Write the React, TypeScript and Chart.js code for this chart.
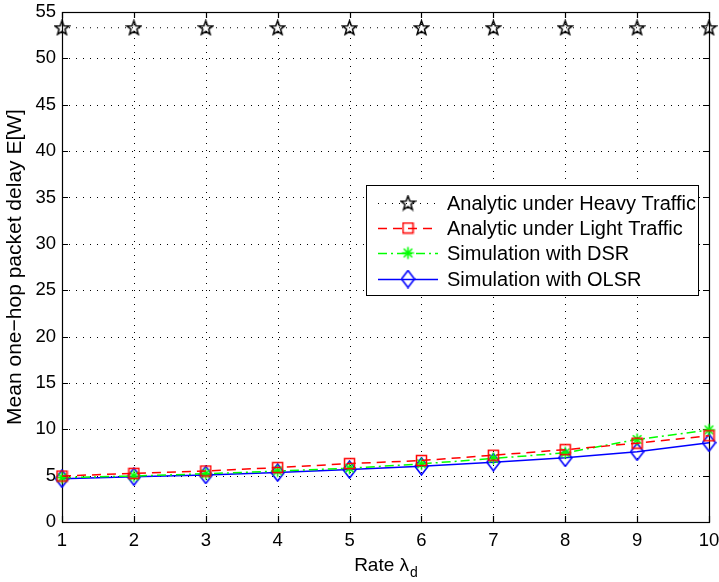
import React, { useEffect, useRef } from "react";
import { Chart, registerables } from "chart.js";

Chart.register(...registerables);

const rates = [1, 2, 3, 4, 5, 6, 7, 8, 9, 10];
const heavyValues = [53.3, 53.3, 53.3, 53.3, 53.3, 53.3, 53.3, 53.3, 53.3, 53.3];
const lightValues = [4.96, 5.25, 5.5, 5.87, 6.3, 6.63, 7.2, 7.8, 8.5, 9.3];
const dsrValues = [4.78, 4.96, 5.2, 5.5, 5.8, 6.27, 6.85, 7.46, 8.9, 9.93];
const olsrValues = [4.67, 4.89, 5.07, 5.33, 5.65, 6.0, 6.45, 6.92, 7.57, 8.55];
const seriesLabels = [
  "Analytic under Heavy Traffic",
  "Analytic under Light Traffic",
  "Simulation with DSR",
  "Simulation with OLSR",
];
const xTitle = "Rate λ";
const xTitleSub = "d";
const yTitle = "Mean one\u2212hop packet delay E[W]";

const FONT = "'Liberation Sans', Arial, Helvetica, sans-serif";

function makeMarker(w: number, h: number, draw: (c: CanvasRenderingContext2D) => void) {
  const cv = document.createElement("canvas");
  cv.width = w;
  cv.height = h;
  const c = cv.getContext("2d")!;
  draw(c);
  return cv;
}

export default function App() {
  const ref = useRef<HTMLCanvasElement>(null);
  useEffect(() => {
    document.body.style.margin = "0";
    const pent = makeMarker(17, 17, (c) => {
      c.strokeStyle = "#000";
      c.lineWidth = 1.5;
      c.beginPath();
      const cx = 8.5, cy = 9, R = 7.5, r = 3.1;
      for (let i = 0; i < 10; i++) {
        const a = -Math.PI / 2 + (i * Math.PI) / 5;
        const rr = i % 2 === 0 ? R : r;
        const px = cx + rr * Math.cos(a);
        const py = cy + rr * Math.sin(a);
        if (i === 0) c.moveTo(px, py);
        else c.lineTo(px, py);
      }
      c.closePath();
      c.stroke();
    });
    const square = makeMarker(13, 13, (c) => {
      c.strokeStyle = "#ff0000";
      c.lineWidth = 1.5;
      c.strokeRect(1.5, 1.5, 10, 10);
    });
    const diamond = makeMarker(15, 19, (c) => {
      c.strokeStyle = "#0000ff";
      c.lineWidth = 1.6;
      c.beginPath();
      c.moveTo(7.5, 1);
      c.lineTo(14, 9.5);
      c.lineTo(7.5, 18);
      c.lineTo(1, 9.5);
      c.closePath();
      c.stroke();
    });
    const asterisk = makeMarker(15, 15, (c) => {
      c.strokeStyle = "#00ff00";
      c.lineWidth = 1.6;
      const cx = 7.5, cy = 7.5, r = 6;
      c.beginPath();
      for (let i = 0; i < 4; i++) {
        const a = (i * Math.PI) / 4;
        c.moveTo(cx - r * Math.cos(a), cy - r * Math.sin(a));
        c.lineTo(cx + r * Math.cos(a), cy + r * Math.sin(a));
      }
      c.stroke();
    });

    const markers = [pent, square, asterisk, diamond];
    const colors = ["#000000", "#ff0000", "#00ff00", "#0000ff"];
    const dashes = [[1, 6], [9, 6], [9, 4, 2, 4], []];
    const widths = [1, 1.5, 1.5, 1.5];

    const plugin = {
      id: "matlabStyle",
      beforeDatasetsDraw(chart: any) {
        const { ctx, chartArea } = chart;
        const { left, right, top, bottom } = chartArea;
        const xs = chart.scales.x;
        const ys = chart.scales.y;
        ctx.save();
        ctx.strokeStyle = "#000";
        ctx.lineWidth = 1;
        ctx.setLineDash([1, 6]);
        xs.ticks.forEach((t: any) => {
          const px = Math.round(xs.getPixelForValue(t.value)) + 0.5;
          ctx.beginPath();
          ctx.moveTo(px, bottom);
          ctx.lineTo(px, top);
          ctx.stroke();
        });
        ys.ticks.forEach((t: any) => {
          const py = Math.round(ys.getPixelForValue(t.value)) + 0.5;
          ctx.beginPath();
          ctx.moveTo(left, py);
          ctx.lineTo(right, py);
          ctx.stroke();
        });
        ctx.setLineDash([]);
        ctx.lineWidth = 1.2;
        ctx.strokeRect(Math.round(left) + 0.5, Math.round(top) + 0.5, Math.round(right - left), Math.round(bottom - top));
        const tl = 6;
        xs.ticks.forEach((t: any) => {
          const px = Math.round(xs.getPixelForValue(t.value)) + 0.5;
          ctx.beginPath();
          ctx.moveTo(px, bottom);
          ctx.lineTo(px, bottom - tl);
          ctx.moveTo(px, top);
          ctx.lineTo(px, top + tl);
          ctx.stroke();
        });
        ys.ticks.forEach((t: any) => {
          const py = Math.round(ys.getPixelForValue(t.value)) + 0.5;
          ctx.beginPath();
          ctx.moveTo(left, py);
          ctx.lineTo(left + tl, py);
          ctx.moveTo(right, py);
          ctx.lineTo(right - tl, py);
          ctx.stroke();
        });
        ctx.restore();
      },
      afterDraw(chart: any) {
        const { ctx, chartArea } = chart;
        ctx.save();
        // legend
        const lx = 366, ly = 185, lw = 332, lh = 110;
        ctx.fillStyle = "#fff";
        ctx.fillRect(lx, ly, lw, lh);
        ctx.strokeStyle = "#000";
        ctx.lineWidth = 1;
        ctx.strokeRect(lx + 0.5, ly + 0.5, lw, lh);
        const rowsY = [203, 228, 253, 279];
        ctx.font = `20px ${FONT}`;
        ctx.textBaseline = "middle";
        ctx.textAlign = "left";
        for (let i = 0; i < 4; i++) {
          const yy = rowsY[i];
          ctx.strokeStyle = colors[i];
          ctx.lineWidth = widths[i];
          ctx.setLineDash(dashes[i]);
          ctx.beginPath();
          ctx.moveTo(378, yy + 0.5);
          ctx.lineTo(438, yy + 0.5);
          ctx.stroke();
          ctx.setLineDash([]);
          const m = markers[i];
          ctx.drawImage(m, 408 - m.width / 2, yy - m.height / 2);
          ctx.fillStyle = "#000";
          ctx.fillText(seriesLabels[i], 447, yy + 1);
        }
        // x title
        ctx.textBaseline = "alphabetic";
        ctx.font = `19px ${FONT}`;
        const w1 = ctx.measureText(xTitle).width;
        ctx.font = `14px ${FONT}`;
        const w2 = ctx.measureText(xTitleSub).width;
        const cx = (chartArea.left + chartArea.right) / 2;
        const sx = cx - (w1 + w2) / 2;
        ctx.font = `19px ${FONT}`;
        ctx.fillText(xTitle, sx, 571);
        ctx.font = `14px ${FONT}`;
        ctx.fillText(xTitleSub, sx + w1 + 1, 577);
        // y title
        ctx.font = `21px ${FONT}`;
        ctx.translate(15, (chartArea.top + chartArea.bottom) / 2);
        ctx.rotate(-Math.PI / 2);
        ctx.textAlign = "center";
        ctx.textBaseline = "middle";
        ctx.fillText(yTitle, 0, 0);
        ctx.restore();
      },
    };

    const allValues = [heavyValues, lightValues, dsrValues, olsrValues];
    const chart = new Chart(ref.current!, {
      type: "line",
      data: {
        labels: rates,
        datasets: allValues.map((vals, i) => ({
          label: seriesLabels[i],
          data: rates.map((r, j) => ({ x: r, y: vals[j] })),
          borderColor: colors[i],
          backgroundColor: colors[i],
          borderWidth: widths[i],
          borderDash: dashes[i],
          pointStyle: markers[i] as any,
          pointRadius: 6,
          pointHoverRadius: 6,
          tension: 0,
          fill: false,
          clip: false as any,
        })),
      },
      options: {
        animation: false,
        responsive: false,
        devicePixelRatio: 1,
        events: [],
        layout: { padding: { top: 12, right: 10, left: 0, bottom: 0 } },
        plugins: { legend: { display: false }, tooltip: { enabled: false }, title: { display: false } },
        scales: {
          x: {
            type: "linear",
            min: 1,
            max: 10,
            grid: { display: false, drawTicks: false },
            border: { display: false },
            ticks: { stepSize: 1, padding: 8, color: "#000", font: { family: FONT, size: 18.5 }, maxRotation: 0 },
            afterFit: (s: any) => {
              s.height = 60;
              s.paddingLeft = 0;
              s.paddingRight = 0;
            },
          },
          y: {
            type: "linear",
            min: 0,
            max: 55,
            grid: { display: false, drawTicks: false },
            border: { display: false },
            ticks: { stepSize: 5, padding: 6, color: "#000", font: { family: FONT, size: 18.5 } },
            afterFit: (s: any) => {
              s.width = 62;
              s.paddingTop = 0;
              s.paddingBottom = 0;
            },
          },
        },
      },
      plugins: [plugin],
    });
    return () => chart.destroy();
  }, []);
  return (
    <div style={{ width: 719, height: 582 }}>
      <canvas ref={ref} width={719} height={582} />
    </div>
  );
}
